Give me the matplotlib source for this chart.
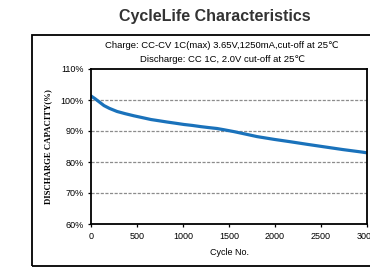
import numpy as np
import matplotlib.pyplot as plt
from matplotlib.patches import Rectangle

plt.rcParams['font.family'] = ['Liberation Sans', 'DejaVu Sans']

# values
cycles = [0, 40, 80, 141, 200, 283, 370, 467, 560, 652, 740, 826, 920, 1011,
          1100, 1196, 1280, 1370, 1446, 1554, 1680, 1804, 1990, 2174, 2350,
          2533, 2740, 2946, 2990]
capacity = [101.3, 100.5, 99.6, 98.2, 97.3, 96.3, 95.6, 94.9, 94.3, 93.7, 93.3,
            92.9, 92.5, 92.1, 91.8, 91.4, 91.1, 90.8, 90.4, 89.8, 89.0, 88.2,
            87.3, 86.5, 85.7, 84.9, 84.0, 83.2, 83.0]
y_ticks = [60, 70, 80, 90, 100, 110]
x_ticks = [0, 500, 1000, 1500, 2000, 2500, 3000]

fig = plt.figure(figsize=(3.7, 2.68), dpi=100)

# outer frame
fig.patches.append(Rectangle((32 / 370, 1 - 266 / 268), 1.0, (266 - 35) / 268,
                             transform=fig.transFigure, fill=False,
                             edgecolor='black', linewidth=1.3))

ax = fig.add_axes([91 / 370, 1 - 224 / 268, (367 - 91) / 370, (224 - 69) / 268])
ax.plot(cycles, capacity, color='#1a72bb', linewidth=2.3, solid_capstyle='round')

ax.set_xlim(0, 3000)
ax.set_ylim(60, 110)
ax.set_xticks(x_ticks)
ax.set_yticks(y_ticks)
ax.set_yticklabels([f'{v}%' for v in y_ticks])
for v in [70, 80, 90, 100]:
    ax.axhline(v, color='#8c8c8c', linestyle=(0, (2.5, 1.2)), linewidth=0.9, zorder=0)

for s in ax.spines.values():
    s.set_linewidth(1.3)
ax.tick_params(labelsize=6.5, length=2.5, width=0.9, pad=3, colors='black')

ax.set_xlabel('Cycle No.', fontsize=6.5, labelpad=5)
ax.set_ylabel('DISCHARGE CAPACITY(%)', fontsize=6.3, fontweight='bold',
              family=['Liberation Serif', 'DejaVu Serif'], labelpad=6)

fig.text(215 / 370, 1 - 17 / 268, 'CycleLife Characteristics', ha='center',
         va='center', fontsize=11.5, fontweight='bold', color='#333333')
fig.text(222 / 370, 1 - 46 / 268,
         'Charge: CC-CV 1C(max) 3.65V,1250mA,cut-off at 25\u2103',
         ha='center', va='center', fontsize=6.8,
         family=['Liberation Sans', 'DejaVu Sans'])
fig.text(222 / 370, 1 - 59 / 268,
         'Discharge: CC 1C, 2.0V cut-off at 25\u2103',
         ha='center', va='center', fontsize=6.8,
         family=['Liberation Sans', 'DejaVu Sans'])

fig.savefig('out.png', dpi=100)
